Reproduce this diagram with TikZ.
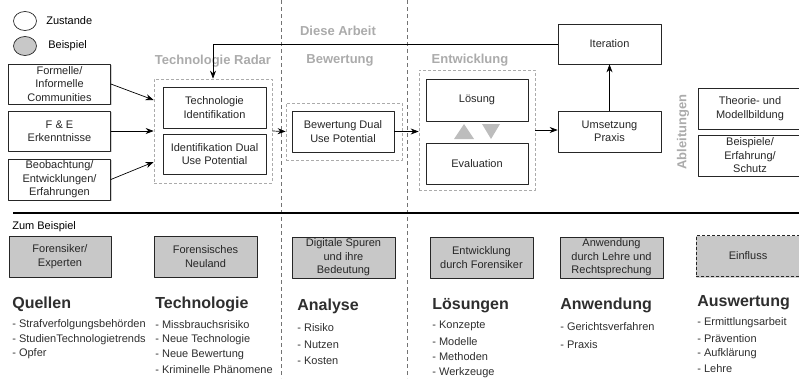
\documentclass[tikz,border=0pt]{standalone}
\usepackage{fontspec}
\setmainfont{Liberation Sans}
\usetikzlibrary{arrows.meta,shadows,shapes.geometric}
\definecolor{boxgray}{HTML}{C8C8C8}
\definecolor{headgray}{HTML}{ABABAB}
\definecolor{txtdark}{HTML}{2E2E2E}
\definecolor{trigray}{HTML}{BDBDBD}
\begin{document}
\begin{tikzpicture}[x=1pt,y=-1pt, line join=round, line width=0.7pt, >={Stealth[length=8pt,width=6pt]},
	font=\fontsize{11}{13.5}\selectfont,
	box/.style={draw=black!85, fill=white, align=center, text=black!85, inner sep=1pt,
		minimum width=102pt, minimum height=41pt,
		drop shadow={shadow xshift=1.3pt, shadow yshift=-1.3pt, opacity=0.35}},
	graybox/.style={box, fill=boxgray},
	grp/.style={draw=headgray, dash pattern=on 3pt off 2pt},
	head/.style={text=headgray, font=\bfseries\fontsize{13}{15}\selectfont},
	sect/.style={anchor=west, inner sep=0pt, text=txtdark, font=\bfseries\fontsize{16}{18}\selectfont},
	item/.style={anchor=west, inner sep=0pt, text=txtdark},
	legend/.style={ellipse, draw=black!85, minimum width=23pt, minimum height=19pt, inner sep=0pt}]
	\useasboundingbox (0,0) rectangle (799,378);
	\clip (0,0) rectangle (799,378);
	% Legende
	\node[legend, fill=white] (zust) at (25,21) {};
	\node[legend, fill=boxgray] (beisp) at (25,46) {};
	\node[item, text=black] (zusttxt) at (46,21) {Zustande};
	\node[item, text=black] (beisptxt) at (48,46) {Beispiel};
	% Trennlinien
	\foreach \x in {281,407}{
		\draw[black!55, line width=0.5pt, dash pattern=on 4pt off 3pt] (\x,0) -- (\x,378);}
	\draw[line width=1.6pt] (13,213) -- (799,213);
	% Ueberschriften
	\node[head] (hdiese) at (338,31) {Diese Arbeit};
	\node[head] (hradar) at (213,61) {Technologie Radar};
	\node[head] (hbew) at (340,60) {Bewertung};
	\node[head] (hentw) at (470,60) {Entwicklung};
	\node[head, rotate=90] (habl) at (683,132) {Ableitungen};
	% Gruppen
	\node[grp, minimum width=118pt, minimum height=104pt] (techgrp) at (213,131) {};
	\node[grp, minimum width=116pt, minimum height=57pt] (bewgrp) at (344,131.5) {};
	\node[grp, minimum width=116pt, minimum height=120pt] (entgrp) at (477,130) {};
	% Quellen oben
	\node[box, minimum height=40pt] (form) at (59.5,84) {Formelle/\\Informelle\\Communities};
	\node[box, minimum height=40pt] (fe) at (59.5,131) {F \& E\\Erkenntnisse};
	\node[box] (beob) at (59.5,179.5) {Beobachtung/\\Entwicklungen/\\Erfahrungen};
	% Technologie Radar
	\node[box, minimum width=103pt] (techid) at (214.5,107.5) {Technologie\\Identifikation};
	\node[box, minimum width=103pt, minimum height=40pt] (idpot) at (214.5,154) {Identifikation Dual\\Use Potential};
	% Bewertung
	\node[box] (bewpot) at (343,131.5) {Bewertung Dual\\Use Potential};
	% Entwicklung
	\node[box, minimum height=42pt] (loes) at (477,100) {L\"osung};
	\node[box] (eval) at (477,163.5) {Evaluation};
	\fill[trigray] (454,139) -- (474,139) -- (464,124) -- cycle;
	\fill[trigray] (482,124) -- (500,124) -- (491,139) -- cycle;
	% Praxis
	\node[box, minimum width=103pt, minimum height=40pt] (iter) at (609.5,44) {Iteration};
	\node[box, minimum width=103pt] (ums) at (609.5,131.5) {Umsetzung\\Praxis};
	\node[box, minimum width=104pt] (theo) at (750,108.5) {Theorie- und\\Modellbildung};
	\node[box, minimum width=104pt] (bsp) at (750,155.5) {Beispiele/\\Erfahrung/\\Schutz};
	% Pfeile
	\draw[->] (form.east) -- ([yshift=31pt]techgrp.west);
	\draw[->] (fe.east) -- (techgrp.west);
	\draw[->] (beob.east) -- ([yshift=-31pt]techgrp.west);
	\draw[->] (techgrp.east) -- (bewgrp.west);
	\draw[->] (bewpot.east) -- (bewpot.east -| entgrp.west);
	\draw[->] (entgrp.east) -- (entgrp.east -| ums.west);
	\draw[->] (ums.north) -- (iter.south);
	\draw[->] (iter.west) -- (iter.west -| techgrp.north) -- (techgrp.north);
	% Zum Beispiel
	\node[item, text=black] (zumbsp) at (12,227) {Zum Beispiel};
	\node[graybox] (forens) at (60,256.5) {Forensiker/\\Experten};
	\node[graybox, minimum width=103pt] (neuland) at (205.5,256.5) {Forensisches\\Neuland};
	\node[graybox, minimum width=103pt] (spuren) at (343.5,257.5) {Digitale Spuren\\und ihre\\Bedeutung};
	\node[graybox, minimum width=103pt] (entfor) at (481.5,257.5) {Entwicklung\\durch Forensiker};
	\node[graybox, minimum width=103pt] (anwbox) at (611.5,257.5) {Anwendung\\durch Lehre und\\Rechtsprechung};
	\node[graybox, minimum width=104pt, line width=1pt, dash pattern=on 3pt off 2pt] (einfl) at (748,256) {Einfluss};
	% Kategorien
	\node[sect] (squel) at (12,304) {Quellen};
	\node[sect] (stech) at (155,304) {Technologie};
	\node[sect] (sana) at (297,306) {Analyse};
	\node[sect] (sloes) at (432,306) {L\"osungen};
	\node[sect] (sanw) at (560,305) {Anwendung};
	\node[sect] (sausw) at (697,303) {Auswertung};
	\foreach \t [count=\i] in {Strafverfolgungsbeh\"orden,StudienTechnologietrends,Opfer}{
		\node[item] (q\i) at (12,{325+14.5*(\i-1)}) {- \t};}
	\foreach \t [count=\i] in {Missbrauchsrisiko,Neue Technologie,Neue Bewertung,Kriminelle Ph\"anomene}{
		\node[item] (t\i) at (155,{325+14.7*(\i-1)}) {- \t};}
	\foreach \t [count=\i] in {Risiko,Nutzen,Kosten}{
		\node[item] (a\i) at (297,{328+16.5*(\i-1)}) {- \t};}
	\foreach \t [count=\i] in {Konzepte,Modelle,Methoden,Werkzeuge}{
		\node[item] (l\i) at (432,{326+15.4*(\i-1)}) {- \t};}
	\foreach \t [count=\i] in {Gerichtsverfahren,Praxis}{
		\node[item] (w\i) at (560,{327+18*(\i-1)}) {- \t};}
	\foreach \t [count=\i] in {Ermittlungsarbeit,Pr\"avention,Aufkl\"arung,Lehre}{
		\node[item] (e\i) at (697,{323+15.3*(\i-1)}) {- \t};}
\end{tikzpicture}
\end{document}
